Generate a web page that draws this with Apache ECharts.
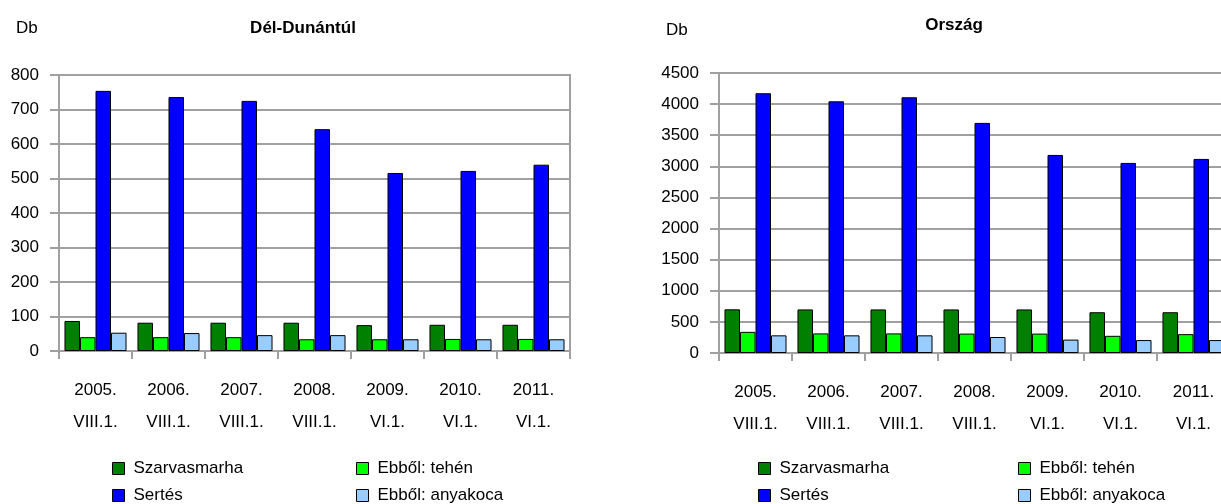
<!DOCTYPE html>
<html>
<head>
<meta charset="utf-8">
<script src="https://cdn.jsdelivr.net/npm/echarts@6/dist/echarts.min.js"></script>
<style>
  html, body { margin: 0; padding: 0; background: #fff; overflow: hidden; }
  #wrap { position: relative; width: 1221px; height: 504px; overflow: hidden; }
  #left { position: absolute; left: 0; top: 0; width: 610px; height: 504px; }
  #right { position: absolute; left: 610px; top: 0; width: 640px; height: 504px; }
</style>
</head>
<body>
<div id="wrap">
  <div id="left"></div>
  <div id="right"></div>
</div>
<script>
// kategóriák (két soros felirat)
var categories = ['2005.\nVIII.1.', '2006.\nVIII.1.', '2007.\nVIII.1.', '2008.\nVIII.1.', '2009.\nVI.1.', '2010.\nVI.1.', '2011.\nVI.1.'];
var seriesNames = ['Szarvasmarha', 'Ebből: tehén', 'Sertés', 'Ebből: anyakoca'];
var seriesColors = ['#008000', '#00ff00', '#0000ff', '#99ccff'];

// Dél-Dunántúl
var ddSzarvasmarha = [87, 82, 82, 82, 75, 76, 76];
var ddTehen = [40, 40, 40, 34, 34, 35, 35];
var ddSertes = [754, 736, 725, 643, 516, 522, 540];
var ddAnyakoca = [53, 52, 46, 46, 34, 34, 34];

// Ország
var orSzarvasmarha = [702, 700, 700, 700, 700, 655, 655];
var orTehen = [340, 315, 315, 312, 312, 276, 303];
var orSertes = [4175, 4045, 4110, 3698, 3183, 3055, 3119];
var orAnyakoca = [284, 284, 284, 257, 215, 208, 208];

var FONT = "'Liberation Sans Narrow', 'Liberation Sans', Arial, sans-serif";
var FS = 17;

function drawChart(id, cfg){
    var myChart = echarts.init(document.getElementById(id));
    var data = [cfg.szarvasmarha, cfg.tehen, cfg.sertes, cfg.anyakoca];
    var series = [];
    for (var i = 0; i < 4; i++) {
        series.push({
            name: seriesNames[i],
            type: 'bar',
            data: data[i],
            barGap: '0%',
            barCategoryGap: '15%',
            itemStyle: { color: seriesColors[i], borderColor: '#000', borderWidth: 1 }
        });
    }
    // egy jelmagyarázat elem = egy legend, hogy pontosan lehessen elhelyezni
    var legendPos = [
        [cfg.legendLeft1, 460], [cfg.legendLeft2, 460],
        [cfg.legendLeft1, 487], [cfg.legendLeft2, 487]
    ];
    var legends = [];
    for (var j = 0; j < 4; j++) {
        legends.push({
            data: [seriesNames[j]],
            left: legendPos[j][0],
            top: legendPos[j][1],
            padding: 0,
            itemWidth: 12,
            itemHeight: 12,
            icon: 'rect',
            selectedMode: false,
            itemStyle: { borderColor: '#000', borderWidth: 1 },
            textStyle: { fontFamily: FONT, fontSize: FS, color: '#000', padding: [0, 0, 0, 4] }
        });
    }
    var option = {
        animation: false,
        title: [
            { text: 'Db', left: cfg.dbLeft, top: cfg.dbTop, padding: 0,
              textStyle: { fontFamily: FONT, fontSize: FS, fontWeight: 'normal', color: '#000' } },
            { text: cfg.title, left: cfg.titleCenter, top: cfg.titleTop, textAlign: 'center', padding: 0,
              textStyle: { fontFamily: FONT, fontSize: FS, fontWeight: 'bold', color: '#000' } }
        ],
        legend: legends,
        grid: {
            left: cfg.gridLeft, top: cfg.gridTop, width: 511, height: cfg.gridHeight,
            show: true, borderColor: '#a0a0a0', borderWidth: 2, backgroundColor: '#fff'
        },
        xAxis: {
            type: 'category',
            data: categories,
            boundaryGap: true,
            axisLine: { lineStyle: { color: '#a0a0a0', width: 2 } },
            axisTick: { show: true, length: 8, lineStyle: { color: '#a0a0a0', width: 2 } },
            axisLabel: { fontFamily: FONT, fontSize: FS, color: '#000', lineHeight: 32, margin: 23, interval: 0 }
        },
        yAxis: {
            type: 'value',
            min: 0,
            max: cfg.yMax,
            interval: cfg.yInterval,
            axisLine: { show: true, lineStyle: { color: '#a0a0a0', width: 2 } },
            axisTick: { show: true, length: 9, lineStyle: { color: '#a0a0a0', width: 2 } },
            splitLine: { lineStyle: { color: '#a0a0a0', width: 2 } },
            axisLabel: {
                fontFamily: FONT, fontSize: FS, color: '#000', margin: 20,
                formatter: function (v) { return String(v); }
            }
        },
        series: series
    };
    myChart.setOption(option);
}

drawChart('left', {
    title: 'Dél-Dunántúl',
    titleCenter: 303, titleTop: 20, dbLeft: 16, dbTop: 20,
    gridLeft: 59, gridTop: 75, gridHeight: 276,
    yMax: 800, yInterval: 100,
    legendLeft1: 112, legendLeft2: 356,
    szarvasmarha: ddSzarvasmarha, tehen: ddTehen, sertes: ddSertes, anyakoca: ddAnyakoca
});

drawChart('right', {
    title: 'Ország',
    titleCenter: 344, titleTop: 17, dbLeft: 56, dbTop: 22,
    gridLeft: 109, gridTop: 73, gridHeight: 280,
    yMax: 4500, yInterval: 500,
    legendLeft1: 148, legendLeft2: 408,
    szarvasmarha: orSzarvasmarha, tehen: orTehen, sertes: orSertes, anyakoca: orAnyakoca
});
</script>
</body>
</html>
